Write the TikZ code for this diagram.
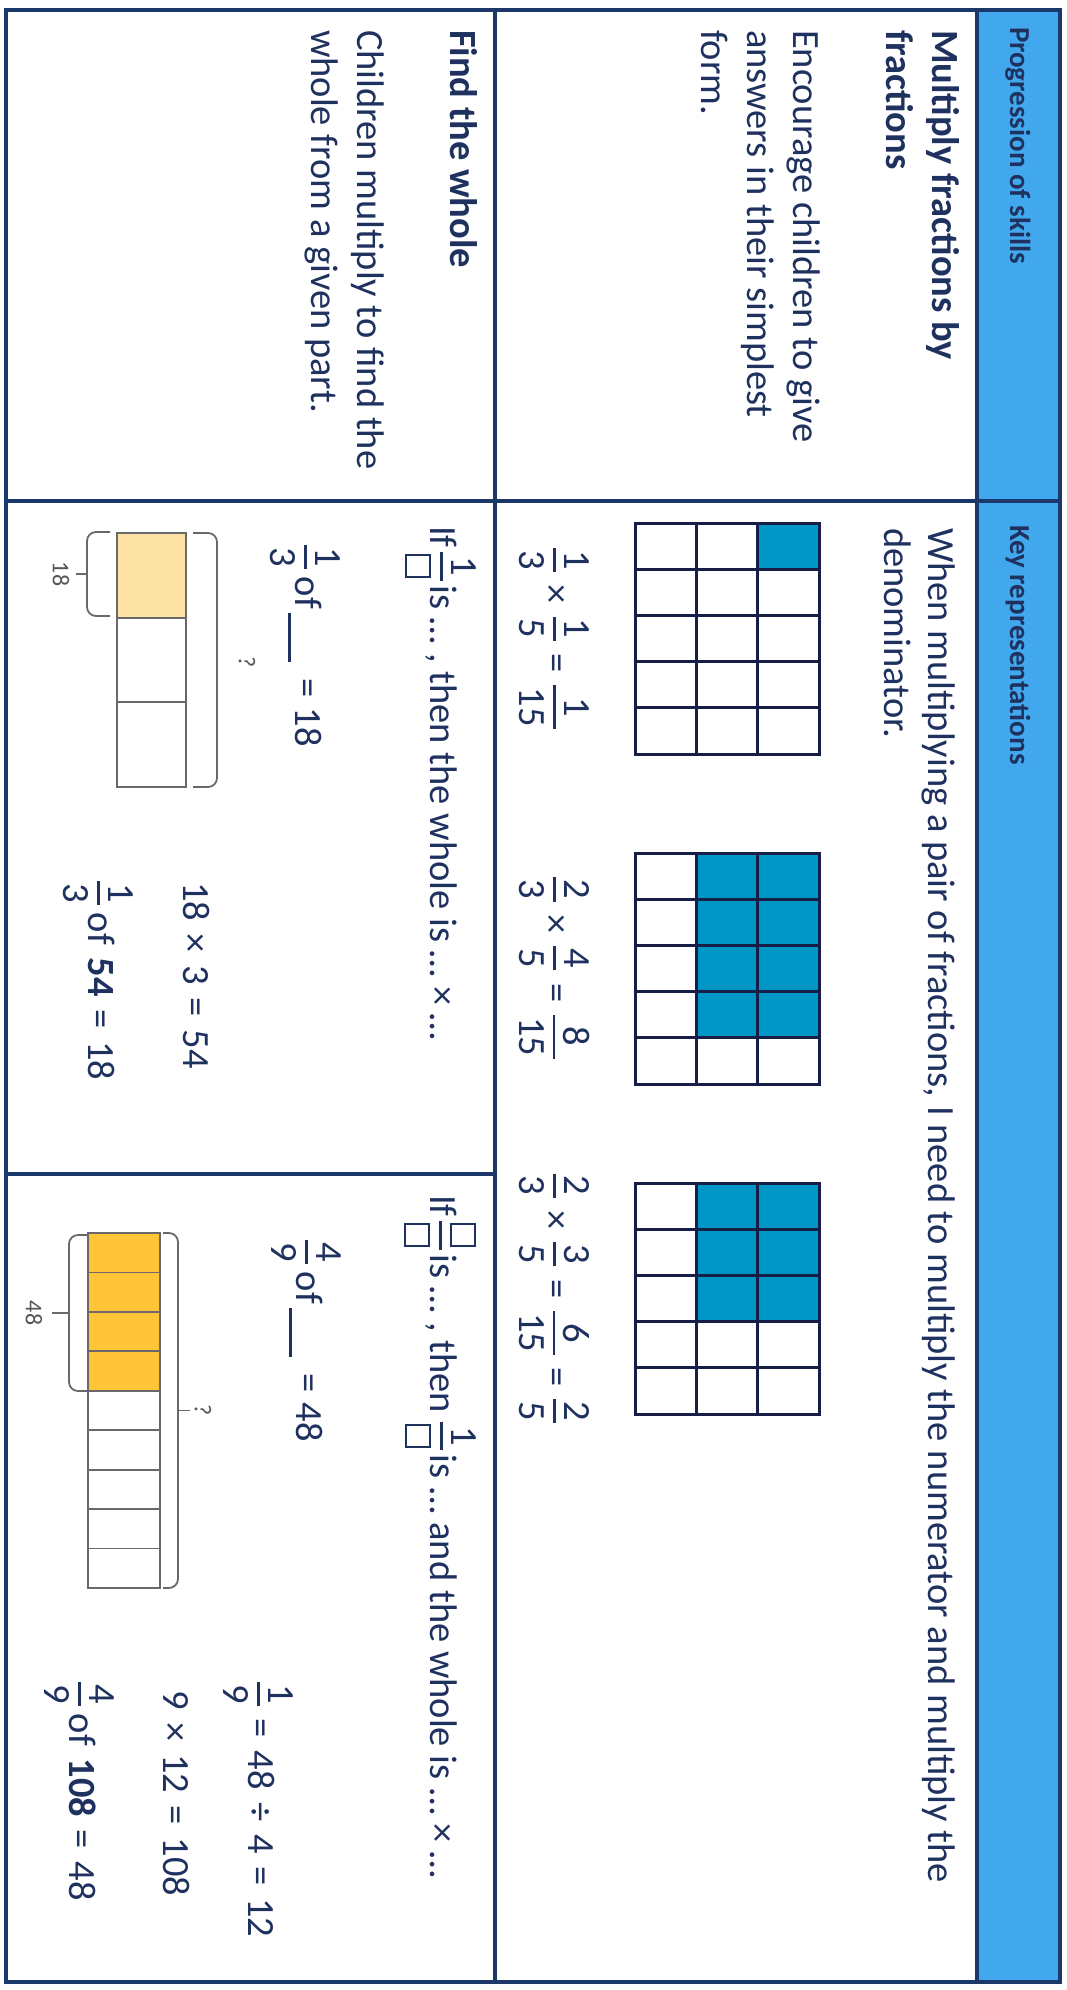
\documentclass[tikz,border=0pt]{standalone}
\usepackage{fontspec}
\setmainfont{Carlito}
\definecolor{navy}{RGB}{31,50,95}
\definecolor{linec}{RGB}{28,55,105}
\definecolor{gridc}{RGB}{22,30,72}
\definecolor{hdrblue}{RGB}{66,168,238}
\definecolor{tealc}{RGB}{0,150,198}
\definecolor{paleyel}{RGB}{252,226,165}
\definecolor{goldc}{RGB}{255,196,56}
\definecolor{barline}{RGB}{105,105,105}
\definecolor{lblc}{RGB}{85,85,85}
\newcommand\bodyf{\fontsize{38.5}{46}\selectfont}
\newcommand\hdrf{\fontsize{29}{34}\selectfont\bfseries}
\newcommand\smallf{\fontsize{24}{28}\selectfont}
\newcommand\fr[2]{\raisebox{0.11em}{$\vcenter{\offinterlineskip\halign{\kern0.06em\hfil##\hfil\kern0.06em\cr\vphantom{0}#1\cr\noalign{\kern0.22em}\omit\leaders\hrule height 0.065em\hfill\cr\noalign{\kern0.22em}\vphantom{0}#2\cr}}$}}
\newcommand\sq{{\setlength\fboxsep{0pt}\setlength\fboxrule{0.05em}\fbox{\rule{0pt}{0.58em}\hspace{0.52em}}}}
\newcommand\blank{\rule[-0.17em]{1.27em}{0.06em}}
\newcommand\gp{\hspace{0.33em}}
\begin{document}
\begin{tikzpicture}[x=1pt,y=-1pt,
  txt/.style={rotate=-90,anchor=base west,inner sep=0pt,outer sep=0pt,text=navy,font=\bodyf},
  hdr/.style={txt,font=\hdrf},
  boldtxt/.style={txt,font=\bodyf\bfseries},
  eqc/.style={txt,anchor=base},
  lbl/.style={rotate=-90,inner sep=0pt,text=lblc,font=\smallf},
  rulel/.style={draw=linec,line width=3.5pt},
  gl/.style={draw=gridc,line width=3pt},
  cellc/.style={draw=barline,line width=1.8pt},
  bracec/.style={draw=barline,line width=1.8pt,rounded corners=9pt}
]
\useasboundingbox (0,0) rectangle (1066,1990);
\fill[white] (0,0) rectangle (1066,1990);
\fill[hdrblue] (977,10) rectangle (1060,1982);

% header texts
\node[hdr] (h1) at (1010,27) {Progression of skills};
\node[hdr] (h2) at (1010,525) {Key representations};

% skills texts
\node[boldtxt] (s1a) at (932,30) {Multiply fractions by};
\node[boldtxt] (s1b) at (886,30) {fractions};
\node[txt] (s1c) at (793,30) {Encourage children to give};
\node[txt] (s1d) at (747,30) {answers in their simplest};
\node[txt] (s1e) at (701,30) {form.};
\node[boldtxt] (s2a) at (450,30) {Find the whole};
\node[txt] (s2b) at (357,30) {Children multiply to find the};
\node[txt] (s2c) at (311,30) {whole from a given part.};

% key representation row 1
\node[txt] (k1) at (928,528) {When multiplying a pair of fractions, I need to multiply the numerator and multiply the};
\node[txt] (k2) at (884,528) {denominator.};

% grids
\fill[tealc] (757.7,523) rectangle (819,569.2);
\fill[tealc] (696.3,853) rectangle (819,1037.8);
\fill[tealc] (696.3,1183) rectangle (819,1321.6);
\foreach \gy in {523,853,1183}{
  \foreach \i in {0,...,3} \draw[gl] ({635+61.333*\i},\gy) -- ({635+61.333*\i},{\gy+231});
  \foreach \j in {0,...,5} \draw[gl] (633.5,{\gy+46.2*\j}) -- (820.5,{\gy+46.2*\j});
}
\node[eqc] (e1) at (544,638.5) {\fr{1}{3}\gp×\gp\fr{1}{5}\gp=\gp\fr{1}{15}};
\node[eqc] (e2) at (544,968) {\fr{2}{3}\gp×\gp\fr{4}{5}\gp=\gp\fr{8}{15}};
\node[eqc] (e3) at (544,1298.5) {\fr{2}{3}\gp×\gp\fr{3}{5}\gp=\gp\fr{6}{15}\gp=\gp\fr{2}{5}};

% row 2 left
\node[txt] (if1) at (430,526) {If\hspace{0.12em}\fr{1}{\sq}\hspace{0.12em}is … , then the whole is … × …};
\node[txt] (of1) at (295,545) {\fr{1}{3}\hspace{0.2em}of\hspace{0.1em}\blank\hspace{0.45em}=\hspace{0.25em}18};
\fill[paleyel] (117,533) rectangle (186,617.7);
\draw[cellc] (117,533) rectangle (186,787);
\draw[cellc] (117,617.7) -- (186,617.7);
\draw[cellc] (117,702.3) -- (186,702.3);
\draw[bracec] (193,533) -- (217,533) -- (217,787) -- (193,787);
\node[lbl] (q1) at (247,662) {?};
\draw[bracec] (110,532) -- (87,532) -- (87,616) -- (110,616);
\coordinate (t1a) at (87,574);
\coordinate (t1b) at (76,574);
\draw[cellc] (t1a) -- (t1b);
\node[lbl] (l18) at (61,574) {18};
\node[txt] (m1) at (183,882) {18\gp×\gp3\gp=\gp54};
\node[txt] (r1) at (88,881) {\fr{1}{3}\hspace{0.2em}of\gp\textbf{54}\gp=\gp18};

% row 2 right
\node[txt] (if2) at (430,1195) {If\hspace{0.12em}\fr{\sq}{\sq}\hspace{0.12em}is … , then \fr{1}{\sq}\hspace{0.12em}is … and the whole is … × …};
\node[txt] (of2) at (296,1240) {\fr{4}{9}\hspace{0.2em}of\hspace{0.1em}\blank\hspace{0.45em}=\hspace{0.25em}48};
\fill[goldc] (88,1233) rectangle (160,1390.8);
\draw[cellc] (88,1233) rectangle (160,1588);
\foreach \k in {1,...,8} \draw[cellc] (88,{1233+39.444*\k}) -- (160,{1233+39.444*\k});
\draw[bracec] (163,1233) -- (178,1233) -- (178,1588) -- (163,1588);
\coordinate (t2a) at (178,1410.5);
\coordinate (t2b) at (190,1410.5);
\draw[cellc] (t2a) -- (t2b);
\node[lbl] (q2) at (203,1410) {?};
\draw[bracec] (87,1235) -- (69,1235) -- (69,1391) -- (87,1391);
\coordinate (t3a) at (69,1313);
\coordinate (t3b) at (52,1313);
\draw[cellc] (t3a) -- (t3b);
\node[lbl] (l48) at (34,1313) {48};
\node[txt] (d2) at (248,1682) {\fr{1}{9}\gp=\gp48\gp÷\gp4\gp=\gp12};
\node[txt] (m2) at (163,1690) {9\gp×\gp12\gp=\gp108};
\node[txt] (r2) at (69,1682) {\fr{4}{9}\hspace{0.2em}of\gp\textbf{108}\gp=\gp48};

% table rules
\draw[rulel] (6,10) rectangle (1060,1982);
\draw[rulel] (977,10) -- (977,1982);
\draw[rulel] (495,10) -- (495,1982);
\draw[rulel] (6,501) -- (1060,501);
\draw[rulel] (6,1174) -- (495,1174);
\end{tikzpicture}
\end{document}
